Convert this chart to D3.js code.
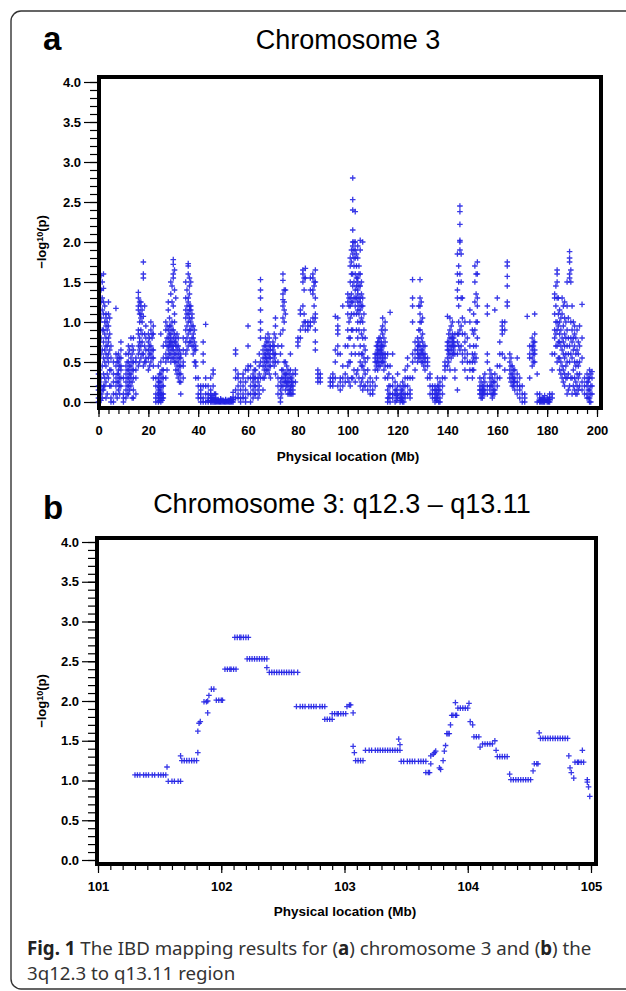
<!DOCTYPE html>
<html>
<head>
<meta charset="utf-8">
<script src="https://d3js.org/d3.v7.min.js"></script>
<style>
  body { margin: 0; background: #fff; }
  svg { display: block; }
  .tick text { font-family: "Liberation Sans", Arial, sans-serif; font-weight: bold; font-size: 13px; fill: #000; }
  .tick line { stroke: #000; stroke-width: 1.2; }
</style>
</head>
<body>
<div id="fig"></div>
<script>

// panel a : positions on chromosome 3 (Mb) and the -log10(p) values read at each one
var aPos = [0,1,2,3,4,5,6,7,8,9,10,11,12,13,14,15,16,17,18,19,20,21,22,23,24,25,26,27,28,29,
  30,31,32,33,34,35,36,37,38,39,40,41,42,43,44,45,46,47,48,49,50,51,52,53,54,55,56,57,58,59,
  60,61,62,63,64,65,66,67,68,69,70,71,72,73,74,75,76,77,78,79,80,81,82,83,84,85,86,87,88,89,
  93,94,95,96,97,98,99,100,101,102,103,104,105,106,107,108,109,110,111,112,113,114,115,116,117,118,119,
  120,121,122,123,124,125,126,127,128,129,130,131,132,133,134,135,136,137,138,139,
  140,141,142,143,144,145,146,147,148,149,150,151,152,153,154,155,156,157,158,159,
  160,161,162,163,164,165,166,167,168,169,170,171,172,173,174,175,176,177,178,179,
  180,181,182,183,184,185,186,187,188,189,190,191,192,193,194,195,196,197,198];

var aVals = [
  [0.0,0.05,0.15,0.2,0.35], [0.02,0.1,0.2,0.3,0.6,0.8,1.05,1.25,1.4,1.58], [0.15,0.2,0.35,0.55,0.75,0.9,1.1,1.25,1.42,1.6],
  [0.05,0.25,0.45,0.6,0.7,0.8,0.95,1.05,1.1], [0.3,0.5,0.6,0.75,0.8,0.95,1.1,1.25], [0.0,0.05,0.2,0.4,0.55,0.7],
  [0.0,0.1,0.25,0.35,0.5], [0.1,0.2,0.3,0.45,0.6,1.17], [0.15,0.25,0.35,0.4,0.5,0.6], [0.2,0.3,0.4,0.45,0.55,0.65,0.75],
  [0.0,0.05,0.1,0.3], [0.05,0.15,0.25,0.35,0.45,0.6], [0.1,0.2,0.3,0.4,0.5,0.6,0.7], [0.2,0.3,0.35,0.45,0.55,0.8],
  [0.05,0.15,0.3,0.4,0.5,0.65,0.8], [0.1,0.3,0.4,0.5,0.55], [0.45,0.6,0.7,0.85,0.9,1.15,1.2,1.3,1.37],
  [0.55,0.7,0.9,1.05,1.1,1.2,1.25], [0.45,0.6,1.07,1.55,1.6,1.75], [0.5,0.55,0.65,0.8,0.95],
  [0.4,0.55,0.65,0.75,0.85], [0.5,0.6,0.7,0.9,1.0], [0.3,0.45,0.55,0.65,0.85,0.95], [0.0,0.05,0.1,0.2,0.3],
  [0.0,0.05,0.1,0.15,0.2,0.25,0.3,0.45], [0.0,0.05,0.1,0.15,0.25,0.35,0.5,0.85], [0.05,0.1,0.2,0.3,0.4,0.55,0.7],
  [0.3,0.5,0.6,0.75,0.9,1.0], [0.55,0.65,0.7,0.8,0.9,1.15,1.25], [0.5,0.6,0.7,0.75,0.8,0.85,0.95,1.35,1.5],
  [0.55,0.65,0.7,0.8,0.9,1.2,1.55,1.6,1.72,1.78], [0.4,0.5,0.6,0.7,0.75,0.8,1.3], [0.3,0.4,0.5,0.6,0.7,0.8],
  [0.1,0.25,0.35,0.45,0.55,0.6], [0.3,0.45,0.5,0.65,0.8], [0.6,0.75,0.9,1.05,1.15,1.3,1.5],
  [0.7,0.85,1.0,1.1,1.25,1.3,1.6,1.7,1.73], [0.75,0.9,1.0,1.15,1.2,1.5], [0.6,0.7,0.8,0.85,0.95], [0.3,0.45,0.5,0.65,0.7],
  [0.05,0.1,0.2,0.3], [0.0,0.05,0.1,0.15,0.2], [0.0,0.05,0.2,0.5,0.6,0.75], [0.0,0.1,0.2,0.3,0.97],
  [0.0,0.02,0.05,0.1,0.2], [0.0,0.05,0.1,0.15,0.3], [0.0,0.05,0.2,0.35,0.4], [0.0,0.02,0.05,0.1],
  [0.0,0.01,0.03], [0.0,0.01,0.02,0.04], [0.0,0.01,0.02], [0.0,0.02,0.03], [0.0,0.01,0.02], [0.0,0.02,0.04],
  [0.0,0.03,0.06,0.12], [0.05,0.15,0.3,0.4,0.6,0.65], [0.05,0.1,0.2,0.3,0.35], [0.0,0.05,0.15,0.25],
  [0.05,0.1,0.2,0.3,0.35], [0.0,0.05,0.15,0.25,0.4],
  [0.1,0.3,0.4,0.45,0.7,0.95], [0.0,0.1,0.2,0.3,0.45], [0.05,0.15,0.25,0.3,0.35], [0.1,0.2,0.3,0.4,0.5],
  [0.05,0.15,0.25,0.3], [0.3,0.5,0.8,0.9,1.0,1.15,1.3,1.4,1.53], [0.15,0.3,0.45,0.55,0.65],
  [0.35,0.45,0.55,0.6,0.7,0.8], [0.4,0.5,0.6,0.65,0.75,0.85], [0.3,0.45,0.55,0.65,0.7],
  [0.5,0.6,0.65,0.7,0.75], [0.35,0.5,0.6,0.8,0.95,1.05], [0.1,0.2,0.3,0.5,0.7], [0.0,0.05,0.15,0.25,0.6,0.85],
  [0.2,0.3,0.4,0.9,1.05,1.2,1.28,1.35,1.52,1.6], [0.15,0.25,0.3,0.35,0.5,1.1,1.4], [0.1,0.2,0.25,0.3,0.4],
  [0.1,0.15,0.2,0.3,0.4,0.6], [0.1,0.15,0.2,0.25,0.35], [0.25,0.35,0.4],
  [0.7,0.75,0.8], [0.8,0.9,1.1,1.15], [0.95,1.2,1.5,1.6,1.65], [0.9,1.0,1.55,1.67], [0.9,0.95,1.0],
  [0.95,1.0,1.4,1.55], [1.05,1.35,1.4,1.55,1.6], [0.65,0.75,0.9,1.05,1.1,1.3,1.5,1.65], [0.25,0.3,0.35,0.4], [0.25,0.3,0.35],
  [0.2,0.25,0.3], [0.2,0.25,0.3,0.35], [0.3,0.5,0.65,1.07], [0.2,0.6,0.7,0.85,0.9,0.95,1.05], [0.15,0.25,0.3,0.6],
  [0.2,0.3,0.45,1.2], [0.25,0.35,0.7], [0.3,0.45,0.7,0.9,1.1,1.25,1.35], [0.2,0.5,0.8,1.05,1.2,1.3,1.5,1.7,1.8],
  [0.3,0.9,1.25,1.45,1.6,1.85,1.95,2.0,2.15,2.4,2.53,2.8], [0.25,0.6,1.2,1.3,1.4,1.6,1.8,1.9,2.0,2.38],
  [0.4,0.8,1.0,1.15,1.25,1.35,1.4,1.5,1.55,1.8,1.95], [0.2,0.5,0.7,1.0,1.15,1.25,1.3,1.45,1.6,1.9,2.02],
  [0.15,0.3,0.45,0.6,0.8,1.0,1.2,1.3,2.0], [0.2,0.35,0.5,0.65,0.8], [0.15,0.25,0.4,0.55], [0.1,0.2,0.3],
  [0.1,0.15,0.25], [0.2,0.4,0.5,0.55,0.6], [0.4,0.5,0.55,0.6,0.65,0.7,0.75], [0.45,0.55,0.6,0.65,0.7,0.8],
  [0.5,0.55,0.6,0.7,0.85,0.95,1.05], [0.3,0.45,0.55,0.6,0.75,0.9,1.0], [0.0,0.05,0.15,0.3,0.45,0.6],
  [0.0,0.1,0.2,0.45,1.12], [0.05,0.1,0.2,0.3,0.6], [0.0,0.1,0.15,0.25],
  [0.05,0.1,0.2,0.35], [0.0,0.05,0.1,0.2], [0.0,0.05,0.15,0.25], [0.05,0.1,0.2,0.3,0.4], [0.1,0.2,0.3,0.45,0.55],
  [0.05,0.1,0.15,0.3], [0.3,0.5,0.6,1.0,1.2,1.3,1.53], [0.4,0.55,0.65,0.75], [0.5,0.6,0.65,0.7,0.8],
  [0.55,0.6,0.7,0.9,1.0,1.1,1.2,1.3,1.53], [0.5,0.6,0.65,0.75,0.85,1.05], [0.4,0.5,0.55,0.6,0.7], [0.3,0.45,0.5,0.55],
  [0.1,0.2,0.3,0.35], [0.05,0.1,0.15,0.2], [0.0,0.05,0.1,0.15,0.2], [0.05,0.1,0.2,0.3], [0.0,0.05,0.15,0.25],
  [0.1,0.2,0.3], [0.3,0.4,0.45,0.5],
  [0.45,0.55,0.65,0.7,0.75,1.07], [0.4,0.6,0.7,0.8,0.9,1.05], [0.6,0.7,0.75,0.8,0.85,1.0], [0.3,0.4,0.6,0.7,0.85],
  [0.15,0.6,0.75,0.85,1.3,1.4,1.6,1.85], [0.65,0.9,1.6,1.9,2.0,2.02,2.22,2.38,2.45], [0.5,0.6,0.85,1.05,1.3],
  [0.4,0.55,0.65,0.75,0.85,1.0], [0.3,0.5,0.6,0.8], [0.4,0.5,0.7,1.0,1.15], [0.3,0.4,0.5,0.6,0.9],
  [0.5,0.6,0.9,1.25,1.5,1.7], [0.8,1.0,1.2,1.3,1.6,1.75], [0.1,0.15,0.2,0.3], [0.05,0.1,0.15,0.2],
  [0.1,0.15,0.25,0.35], [0.1,0.2,0.5,0.6,1.1,1.2], [0.15,0.2,0.3,0.4], [0.05,0.1,0.2,0.3], [0.1,0.15,0.25,0.35,1.15],
  [0.2,0.3,0.45,1.3], [0.3,0.45,0.6,0.75], [0.6,0.85,0.9,0.95,1.0], [0.4,0.55,0.9,1.0], [1.2,1.25,1.45,1.57,1.7,1.75],
  [0.3,0.4,0.5,0.6], [0.2,0.3,0.35,0.45], [0.15,0.25,0.3,0.4], [0.1,0.2,0.25,0.35,0.55], [0.05,0.15,0.2,0.3],
  [0.0,0.1,0.2], [0.0,0.05,0.1], [1.07], [0.3,0.55,0.6,0.7], [0.45,0.55,0.65,0.7,0.8], [0.5,0.6,0.65,0.75,0.85,1.1],
  [0.0,0.1,0.35], [0.0,0.02,0.05,0.1], [0.0,0.02,0.05], [0.0,0.03,0.08],
  [0.0,0.02,0.05], [0.0,0.03,0.06,0.1], [0.05,0.1,0.4,0.6], [0.6,0.8,0.9,1.1,1.3,1.35],
  [0.5,0.7,0.9,1.0,1.3,1.5,1.6,1.65], [0.4,0.55,0.75,0.85,1.0,1.15], [0.3,0.45,0.65,0.8,1.1,1.3],
  [0.2,0.35,0.55,0.7,0.85,1.05,1.25], [0.1,0.3,0.5,0.7,0.9,1.2,1.5], [0.2,0.5,0.7,1.55,1.6,1.75,1.8,1.88],
  [0.1,0.3,0.55,0.75,0.9,1.2], [0.15,0.3,0.5,0.7,0.85,0.95], [0.1,0.2,0.35,0.5,0.65,0.9], [0.2,0.35,0.5,0.7,0.95],
  [0.15,0.25,0.55,0.8,1.22], [0.1,0.2,0.3], [0.05,0.1,0.2,0.25,0.35], [0.0,0.05,0.15,0.3,0.4], [0.1,0.2,0.3,0.38]
];

// more SNPs sitting between the whole-Mb columns in the crowded stretches
var aPos2 = [0.5,1.5,2.5,3.5,4.5,7.5,8.5,11.5,12.5,13.5,16.5,17.5,18.5,20.5,21.5,24.5,25.5,27.5,28.5,29.5,
  30.5,31.5,32.5,35.5,36.5,37.5,38.5,45.5,46.5,47.5,48.5,49.5,50.5,51.5,52.5,53.5,62.5,64.5,66.5,67.5,
  68.5,70.5,73.5,74.5,75.5,76.5,77.5,82.5,86.5,100.5,101.5,102.5,103.5,104.5,105.5,106.5,111.5,112.5,113.5,114.5,
  116.5,119.5,121.5,122.5,128.5,129.5,130.5,135.5,136.5,140.5,141.5,142.5,144.5,145.5,150.5,151.5,153.5,154.5,157.5,158.5,
  165.5,166.5,174.5,177.5,178.5,180.5,183.5,184.5,185.5,186.5,187.5,188.5,189.5,190.5,191.5,192.5,196.5,197.5];

var aVals2 = [
  [0.1,0.25,0.4,0.7,1.0,1.4], [0.05,0.15,0.45,0.65,0.9,1.15,1.3,1.5], [0.2,0.3,0.5,0.65,0.85,1.0,1.2],
  [0.1,0.35,0.55,0.7,0.9,1.0], [0.2,0.4,0.65,0.85,1.05], [0.05,0.25,0.35,0.5,0.55], [0.1,0.2,0.3,0.45,0.55],
  [0.1,0.2,0.3,0.4,0.5], [0.15,0.25,0.35,0.45,0.65], [0.05,0.25,0.4,0.5,0.6,0.7], [0.5,0.65,0.75,0.8,1.0,1.1,1.25],
  [0.6,0.75,0.85,1.0,1.15], [0.5,0.7,0.85,1.2], [0.45,0.6,0.7,0.8], [0.55,0.65,0.8,0.85],
  [0.02,0.08,0.12,0.18,0.25,0.35], [0.02,0.05,0.1,0.2,0.3,0.4], [0.4,0.55,0.7,0.8,0.95], [0.6,0.7,0.75,0.85,0.95,1.05],
  [0.55,0.65,0.7,0.75,0.9,1.0,1.25,1.45],
  [0.5,0.6,0.75,0.85,1.0,1.1,1.4,1.65], [0.35,0.45,0.55,0.65,0.7,0.85], [0.25,0.35,0.45,0.55,0.65],
  [0.65,0.8,0.95,1.1,1.2,1.4], [0.75,0.9,1.05,1.15,1.2,1.35,1.45,1.55], [0.7,0.8,0.95,1.05,1.1], [0.5,0.65,0.75,0.9],
  [0.0,0.02,0.05,0.08], [0.0,0.03,0.1], [0.0,0.01,0.02], [0.0,0.01], [0.0,0.02], [0.0,0.01], [0.0,0.01], [0.0,0.02],
  [0.0,0.01,0.03], [0.1,0.2,0.3,0.4], [0.1,0.2,0.35,0.45,0.6], [0.3,0.4,0.5,0.6,0.7], [0.4,0.5,0.55,0.65,0.75],
  [0.35,0.45,0.55,0.6,0.7,0.8], [0.45,0.55,0.6,0.7,0.85], [0.1,0.2,0.3,0.4,0.7], [0.25,0.35,0.5,1.0,1.15,1.25,1.4],
  [0.2,0.25,0.35,0.45], [0.1,0.15,0.25,0.35], [0.1,0.2,0.25,0.3], [1.0,1.1,1.4,1.55], [1.0,1.2,1.45,1.5],
  [0.25,0.5,0.8,1.0,1.2,1.3], [0.3,0.6,0.9,1.1,1.25,1.35,1.6,1.75,1.9], [0.4,0.7,1.1,1.3,1.5,1.7,1.8,1.9,2.0],
  [0.35,0.9,1.1,1.3,1.45,1.55,1.7,1.85], [0.3,0.6,0.9,1.1,1.2,1.3,1.45,1.6,1.7], [0.25,0.45,0.6,0.85,1.05,1.2,1.35,1.5],
  [0.2,0.4,0.55,0.7,0.9,1.1], [0.3,0.45,0.5,0.6,0.7], [0.45,0.5,0.6,0.65,0.75,0.8], [0.5,0.6,0.65,0.7,0.75,0.9],
  [0.4,0.5,0.6,0.7,0.8],
  [0.05,0.1,0.2,0.35], [0.02,0.08,0.15], [0.02,0.05,0.1,0.15], [0.0,0.1,0.2], [0.55,0.6,0.7,0.75,0.9,1.2],
  [0.5,0.6,0.65,0.8,1.0,1.25], [0.45,0.55,0.6,0.7], [0.02,0.05,0.1,0.15], [0.0,0.1,0.15,0.2], [0.5,0.6,0.65,0.75,0.85],
  [0.55,0.65,0.7,0.8,0.95], [0.6,0.65,0.7,0.75,0.8], [0.7,0.85,1.0,1.2,1.5,1.7], [0.7,0.95,1.3,1.5,1.85],
  [0.4,0.55,0.7,0.85,1.1], [0.55,0.7,1.0,1.35,1.6], [0.05,0.1,0.15,0.25], [0.1,0.15,0.2,0.3], [0.1,0.2,0.25,0.35],
  [0.1,0.15,0.25],
  [0.25,0.35,0.45,0.55], [0.2,0.25,0.3,0.4], [0.5,0.6,0.7,0.75], [0.0,0.01,0.03], [0.0,0.02,0.04], [0.0,0.01,0.03],
  [0.7,0.85,1.0,1.2,1.45], [0.55,0.75,0.95,1.1,1.3], [0.35,0.5,0.7,0.9,1.05], [0.25,0.4,0.6,0.75,0.95,1.2],
  [0.3,0.45,0.6,0.8,1.0], [0.15,0.35,0.6,0.8,1.05], [0.3,0.6,0.8,1.0,1.5,1.65], [0.2,0.4,0.65,0.8,1.0],
  [0.1,0.25,0.45,0.6,0.8], [0.15,0.3,0.45,0.6,0.75], [0.05,0.15,0.25,0.3], [0.0,0.1,0.2,0.35]
];

// panel b : the 3q12.3 - q13.11 region, one entry per marker
var bPos = [
  101.30,101.32,101.34,101.37,101.39,101.41,101.44,101.46,101.49,101.51,101.53,101.55, 101.56,
  101.57,101.60,101.62,101.65,101.67, 101.67,
  101.68,101.70,101.72,101.74,101.76,101.78,101.80, 101.81,101.81,101.82,101.83,
  101.86,101.88,101.89,101.89,101.90,101.92,101.94,
  101.96,101.98,102.00,102.01, 102.03,102.05,102.07,102.08,102.10,102.12,
  102.11,102.13,102.15,102.16,102.18,102.20,102.22,
  102.21,102.23,102.25,102.27,102.29,102.31,102.33,102.35,102.37, 102.37,
  102.39,102.41,102.43,102.45,102.47,102.49,102.51,102.53,102.55,102.57,102.59,102.62,
  102.61,102.64,102.66,102.68,102.71,102.73,102.75,102.77,102.80,102.82,102.84,
  102.84,102.86,102.88,102.90, 102.90,102.92,102.94,102.95,102.97,102.99,103.01,
  103.02,103.04,103.05, 103.07,103.07,103.08,
  103.09,103.11,103.13,103.15,
  103.17,103.20,103.22,103.25,103.27,103.29,103.31,103.33,103.35,103.37,103.39,103.41,103.43,103.45, 103.44,103.45,
  103.46,103.48,103.51,103.53,103.55,103.57,103.60,103.62,103.64,103.66,
  103.66,103.68,103.69, 103.70, 103.70,103.72,103.73,103.74, 103.77,103.78,
  103.80,103.81,103.82, 103.83,103.84,103.85, 103.86, 103.87,103.88,103.90,103.91, 103.90,
  103.92,103.94,103.96,103.98,104.00, 104.01, 104.02,104.04, 104.05,104.07,104.09, 104.10,
  104.12,104.14,104.16,104.18,104.20, 104.22,104.23,
  104.24,104.26,104.28,104.30,104.32, 104.34,
  104.35,104.37,104.39,104.41,104.43,104.45,104.47,104.49,104.51, 104.53, 104.54,104.56,104.57, 104.58,
  104.59,104.61,104.63,104.65,104.67,104.69,104.71,104.73,104.75,104.77,104.79,104.81,
  104.82,104.83,104.84,104.86, 104.87,104.89,104.90,104.92,104.94, 104.93,
  104.97,104.97,104.98,104.99
];
var bVal = [
  1.07,1.07,1.07,1.07,1.07,1.07,1.07,1.07,1.07,1.07,1.07,1.07, 1.17,
  0.99,0.99,0.99,0.99,0.99, 1.31,
  1.25,1.25,1.25,1.25,1.25,1.25,1.25, 1.35,1.62,1.72,1.74,
  1.99,1.99,2.00,1.85,2.07,2.15,2.15,
  2.01,2.01,2.01,2.01, 2.40,2.40,2.40,2.40,2.40,2.40,
  2.80,2.80,2.80,2.80,2.80,2.80,2.80,
  2.53,2.53,2.53,2.53,2.53,2.53,2.53,2.53,2.53, 2.42,
  2.36,2.36,2.36,2.36,2.36,2.36,2.36,2.36,2.36,2.36,2.36,2.36,
  1.93,1.93,1.93,1.93,1.93,1.93,1.93,1.93,1.93,1.93,1.93,
  1.77,1.77,1.77,1.77, 1.84,1.84,1.84,1.84,1.84,1.84,1.84,
  1.93,1.95,1.95, 1.85,1.43,1.35,
  1.25,1.25,1.25,1.25,
  1.38,1.38,1.38,1.38,1.38,1.38,1.38,1.38,1.38,1.38,1.38,1.38,1.38,1.38, 1.52,1.45,
  1.24,1.24,1.24,1.24,1.24,1.24,1.24,1.24,1.24,1.24,
  1.10,1.10,1.10, 1.21, 1.31,1.33,1.35,1.37, 1.16,1.14,
  1.25,1.37,1.44, 1.59,1.59,1.59, 1.70, 1.82,1.82,1.82,1.82, 1.98,
  1.91,1.91,1.91,1.91,1.91, 1.97, 1.74,1.70, 1.55,1.55,1.55, 1.42,
  1.46,1.46,1.46,1.46,1.46, 1.50,1.38,
  1.30,1.30,1.30,1.30,1.30, 1.08,
  1.01,1.01,1.01,1.01,1.01,1.01,1.01,1.01,1.01, 1.12, 1.21,1.21,1.21, 1.60,
  1.53,1.53,1.53,1.53,1.53,1.53,1.53,1.53,1.53,1.53,1.53,1.53,
  1.31,1.16,1.10,1.03, 1.23,1.23,1.23,1.23,1.23, 1.38,
  1.01,0.98,0.92,0.80
];

var aTicksX = [0,20,40,60,80,100,120,140,160,180,200];
var bTicksX = [101,102,103,104,105];
var yTicks = [0,0.5,1,1.5,2,2.5,3,3.5,4];

var font = '"Liberation Sans", Arial, sans-serif';
var plusPath = "M-2.8,0H2.8M0,-2.8V2.8";

var svg = d3.select("#fig")
  .append("svg")
    .attr("width", 626)
    .attr("height", 991);

// outer figure box (open on the right, like the scan)
svg.append("rect")
  .attr("x", 11).attr("y", 11)
  .attr("width", 660).attr("height", 978)
  .attr("rx", 10)
  .attr("fill", "none")
  .attr("stroke", "#333")
  .attr("stroke-width", 1.4);

function drawPanel(cfg) {
  var g = svg.append("g");

  var x = d3.scaleLinear().domain(cfg.xDomain).range(cfg.xRange);
  var y = d3.scaleLinear().domain([0, 4]).range(cfg.yRange);

  // minor ticks
  g.append("g")
    .attr("transform", "translate(" + cfg.left + ",0)")
    .call(d3.axisLeft(y).tickValues(d3.range(0, 41).map(function(i) { return i / 10; }))
      .tickSize(7).tickFormat(""))
    .call(function(s) { s.select(".domain").remove(); });
  g.append("g")
    .attr("transform", "translate(0," + cfg.bottom + ")")
    .call(d3.axisBottom(x).tickValues(cfg.xMinor).tickSize(4).tickFormat(""))
    .call(function(s) { s.select(".domain").remove(); });

  // major ticks + labels
  g.append("g")
    .attr("transform", "translate(" + cfg.left + ",0)")
    .call(d3.axisLeft(y).tickValues(yTicks).tickSize(13).tickPadding(3).tickFormat(d3.format(".1f")))
    .call(function(s) { s.select(".domain").remove(); });
  g.append("g")
    .attr("transform", "translate(0," + cfg.bottom + ")")
    .call(d3.axisBottom(x).tickValues(cfg.xMajor).tickSize(7).tickPadding(9).tickFormat(d3.format("d")))
    .call(function(s) { s.select(".domain").remove(); });

  // markers
  g.append("g")
    .selectAll("path")
    .data(cfg.points)
    .enter()
    .append("path")
      .attr("d", plusPath)
      .attr("transform", function(d) { return "translate(" + x(d[0]) + "," + y(d[1]) + ")"; })
      .attr("fill", "none")
      .attr("stroke", "#2424e4")
      .attr("stroke-opacity", 0.9)
      .attr("stroke-width", 1.3);

  // thick frame
  g.append("rect")
    .attr("x", cfg.left + 2).attr("y", cfg.top + 2)
    .attr("width", cfg.right - cfg.left - 4)
    .attr("height", cfg.bottom - cfg.top - 4)
    .attr("fill", "none")
    .attr("stroke", "#000")
    .attr("stroke-width", 4);

  // panel letter and title
  g.append("text")
    .attr("x", 43).attr("y", cfg.letterY)
    .style("font-family", font).style("font-weight", "bold").style("font-size", "33px")
    .text(cfg.letter);
  g.append("text")
    .attr("x", cfg.titleX).attr("y", cfg.titleY)
    .attr("text-anchor", "middle")
    .style("font-family", font).style("font-size", "27px")
    .text(cfg.title);

  // axis titles
  g.append("text")
    .attr("x", cfg.xTitleX).attr("y", cfg.xTitleY)
    .attr("text-anchor", "middle")
    .style("font-family", font).style("font-weight", "bold").style("font-size", "13.5px")
    .text("Physical location (Mb)");

  var yl = g.append("text")
    .attr("transform", "translate(46," + ((cfg.yRange[0] + cfg.yRange[1]) / 2) + ") rotate(-90)")
    .attr("text-anchor", "middle")
    .style("font-family", font).style("font-weight", "bold").style("font-size", "13px");
  yl.append("tspan").text("\u2212log");
  yl.append("tspan").attr("dy", -3).style("font-size", "9px").text("10");
  yl.append("tspan").attr("dy", 3).text("(p)");
}

var aPoints = [];
aPos.forEach(function(p, i) {
  aVals[i].forEach(function(v) { aPoints.push([p, v]); });
});
aPos2.forEach(function(p, i) {
  aVals2[i].forEach(function(v) { aPoints.push([p, v]); });
});
var bPoints = bPos.map(function(p, i) { return [p, bVal[i]]; });

drawPanel({
  letter: "a", letterY: 50,
  title: "Chromosome 3", titleX: 348, titleY: 49,
  left: 97, right: 603, top: 75, bottom: 410,
  xDomain: [0, 200], xRange: [98.5, 597], yRange: [402, 82],
  xMajor: aTicksX, xMinor: d3.range(0, 201, 4),
  xTitleX: 348, xTitleY: 461,
  points: aPoints
});

drawPanel({
  letter: "b", letterY: 519,
  title: "Chromosome 3: q12.3 \u2013 q13.11", titleX: 342, titleY: 513,
  left: 95, right: 598, top: 536, bottom: 866,
  xDomain: [101, 105], xRange: [98, 591], yRange: [860, 542],
  xMajor: bTicksX, xMinor: d3.range(1010, 1051).map(function(i) { return i / 10; }),
  xTitleX: 345, xTitleY: 916,
  points: bPoints
});

// caption
var cap = svg.append("g").style("font-family", '"Noto Sans", "Open Sans", sans-serif').style("fill", "#333");
var line1 = cap.append("text").attr("x", 27).attr("y", 955).style("font-size", "17px");
line1.append("tspan").style("font-weight", "bold").style("fill", "#222").text("Fig. 1");
line1.append("tspan").text(" The IBD mapping results for (");
line1.append("tspan").style("font-weight", "bold").style("fill", "#222").text("a");
line1.append("tspan").text(") chromosome 3 and (");
line1.append("tspan").style("font-weight", "bold").style("fill", "#222").text("b");
line1.append("tspan").text(") the");
var line2 = cap.append("text").attr("x", 27).attr("y", 980).style("font-size", "17px")
  .text("3q12.3 to q13.11 region");

// fit the first caption line to the width it spans in the figure
var w = line1.node().getComputedTextLength();
var fs = 17 * 565 / w;
line1.style("font-size", fs + "px");
line2.style("font-size", fs + "px");

</script>
</body>
</html>
